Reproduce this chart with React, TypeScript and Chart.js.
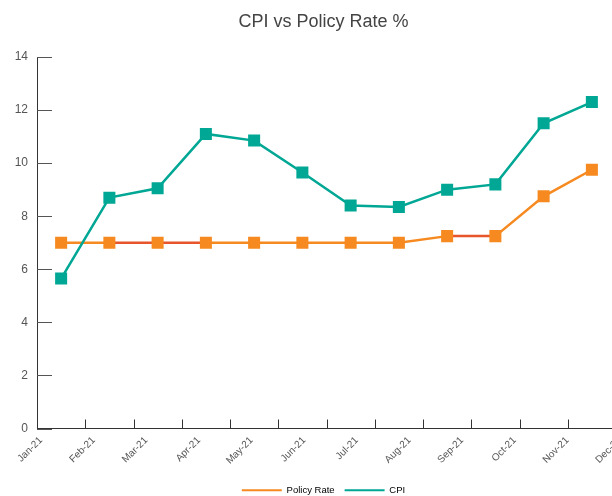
import React, { useEffect, useRef } from "react";
import { Chart, registerables } from "chart.js";

Chart.register(...registerables);

const months = ["Jan-21", "Feb-21", "Mar-21", "Apr-21", "May-21", "Jun-21", "Jul-21", "Aug-21", "Sep-21", "Oct-21", "Nov-21", "Dec-21"];
const policyRate = [7, 7, 7, 7, 7, 7, 7, 7, 7.25, 7.25, 8.75, 9.75];
const cpi = [5.65, 8.7, 9.05, 11.1, 10.85, 9.65, 8.4, 8.35, 9.0, 9.2, 11.5, 12.3];
const yTicks = [0, 2, 4, 6, 8, 10, 12, 14];
const redSegments = [1, 2, 8];

const ORANGE = "#f6891f";
const RED = "#e8552b";
const TEAL = "#00a794";
const FONT = "'Liberation Sans', Arial, sans-serif";

const innerTicks = {
  id: "innerTicks",
  afterDraw(chart: any) {
    const { ctx, chartArea, scales } = chart;
    const y = scales.y;
    const x = scales.x;
    ctx.save();
    ctx.lineWidth = 1;
    ctx.strokeStyle = "#555";
    yTicks.forEach((v) => {
      const py = Math.round(y.getPixelForValue(v)) + 0.5;
      ctx.beginPath();
      ctx.moveTo(chartArea.left, py);
      ctx.lineTo(chartArea.left + 15, py);
      ctx.stroke();
    });
    ctx.strokeStyle = "#333";
    months.forEach((_, i) => {
      if (i === 0) return;
      const px = Math.round(x.getPixelForValue(i)) + 0.5;
      ctx.beginPath();
      ctx.moveTo(px, chartArea.bottom);
      ctx.lineTo(px, chartArea.bottom - 9);
      ctx.stroke();
    });
    ctx.restore();
  },
};

export default function App() {
  const ref = useRef<HTMLCanvasElement | null>(null);

  useEffect(() => {
    document.body.style.margin = "0";
    document.body.style.overflow = "hidden";
    const canvas = ref.current;
    if (!canvas) return;
    const chart = new Chart(canvas, {
      type: "line",
      data: {
        datasets: [
          {
            label: "Policy Rate",
            data: policyRate.map((v, i) => ({ x: i + 0.5, y: v })),
            borderColor: ORANGE,
            backgroundColor: ORANGE,
            borderWidth: 2.5,
            pointStyle: "rect",
            pointRadius: 8.5,
            pointHoverRadius: 8.5,
            pointBorderWidth: 0,
            pointBackgroundColor: ORANGE,
            order: 1,
            segment: {
              borderColor: (c: any) => (redSegments.includes(c.p0DataIndex) ? RED : undefined),
            },
          },
          {
            label: "CPI",
            data: cpi.map((v, i) => ({ x: i + 0.5, y: v })),
            borderColor: TEAL,
            backgroundColor: TEAL,
            borderWidth: 2.5,
            pointStyle: "rect",
            pointRadius: 8.5,
            pointHoverRadius: 8.5,
            pointBorderWidth: 0,
            pointBackgroundColor: TEAL,
            order: 0,
          },
        ],
      },
      options: {
        animation: false,
        responsive: false,
        maintainAspectRatio: false,
        layout: { padding: { left: 0, right: 0, top: 0, bottom: -9 } },
        plugins: {
          title: {
            display: true,
            text: "CPI vs Policy Rate %",
            color: "#444",
            font: { family: FONT, size: 18, weight: "normal" },
            padding: { top: 11, bottom: 24.4 },
          },
          legend: {
            position: "bottom",
            labels: {
              boxWidth: 40,
              boxHeight: 2,
              color: "#555",
              padding: 10,
              font: { family: FONT, size: 9.5 },
              sort: (a: any, b: any) => a.datasetIndex - b.datasetIndex,
              generateLabels: (chart: any) =>
                chart.data.datasets.map((d: any, i: number) => ({
                  text: d.label,
                  fillStyle: d.borderColor,
                  strokeStyle: d.borderColor,
                  lineWidth: 0,
                  datasetIndex: i,
                  hidden: false,
                })),
            },
          },
          tooltip: { enabled: false },
        },
        scales: {
          x: {
            type: "linear",
            display: false,
            min: 0,
            max: 12,
          },
          x2: {
            type: "category",
            position: "bottom",
            labels: months,
            offset: false,
            grid: { display: false, drawTicks: false },
            border: { display: true, color: "#333", width: 1 },
            afterFit: (s: any) => {
              s.height = 47;
            },
            ticks: {
              color: "#555",
              font: { family: FONT, size: 10 },
              maxRotation: 45,
              minRotation: 45,
              autoSkip: false,
              padding: 6,
              labelOffset: 4,
            },
          },
          y: {
            min: 0,
            max: 14,
            afterBuildTicks: (s: any) => {
              s.ticks = yTicks.map((v) => ({ value: v }));
            },
            afterFit: (s: any) => {
              s.width = 37;
            },
            grid: { display: false, drawTicks: false },
            border: { display: true, color: "#333", width: 1 },
            ticks: {
              color: "#555",
              font: { family: FONT, size: 12 },
              padding: 9,
            },
          },
          yR: {
            type: "linear",
            position: "right",
            display: true,
            grid: { display: false, drawTicks: false },
            border: { display: false },
            ticks: { display: false },
            afterFit: (s: any) => {
              s.width = 31;
            },
          },
        },
      },
      plugins: [innerTicks],
    });
    return () => chart.destroy();
  }, []);

  return (
    <div style={{ width: 647, height: 496 }}>
      <canvas ref={ref} width={647} height={496} style={{ width: 647, height: 496, display: "block" }} />
    </div>
  );
}
